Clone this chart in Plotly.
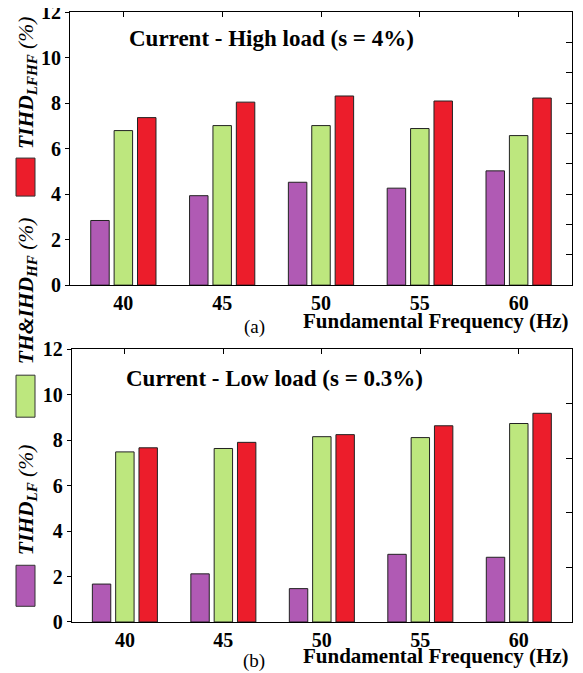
import plotly.graph_objects as go

freqs = [40, 45, 50, 55, 60]
high_lf = [2.84, 3.93, 4.52, 4.26, 5.02]
high_hf = [6.79, 7.01, 7.01, 6.88, 6.57]
high_lfhf = [7.36, 8.04, 8.31, 8.09, 8.22]
low_lf = [1.67, 2.12, 1.47, 2.98, 2.85]
low_hf = [7.49, 7.64, 8.16, 8.12, 8.74]
low_lfhf = [7.67, 7.91, 8.25, 8.64, 9.19]
ytick_vals = [0, 2, 4, 6, 8, 10, 12]
right_ticks_top = [0, 1, 2, 3, 4, 5, 6, 7, 8, 9]
right_ticks_bot = [0, 1, 2, 3, 4, 5]

PURPLE = "#b05ab4"
GREEN = "#bde77e"
RED = "#ec1d2b"
SERIF = "Liberation Serif"

OFF = 8  # page body margin
W, H = 583 - OFF, 673 - OFF
ML = 70 - OFF
MT = 12 - OFF
MR = W - (572 - OFF)
MB = H - (621.7 - OFF)
PW = W - ML - MR
PH = H - MT - MB


def xp(px):
    return (px - OFF - ML) / PW


def yp(py):
    return (H - MB - (py - OFF)) / PH


fig = go.Figure()
line = dict(color="#222222", width=1)
for vals, col, xa, ya in [
    (high_lf, PURPLE, "x", "y"), (high_hf, GREEN, "x", "y"), (high_lfhf, RED, "x", "y"),
    (low_lf, PURPLE, "x2", "y2"), (low_hf, GREEN, "x2", "y2"), (low_lfhf, RED, "x2", "y2"),
]:
    fig.add_trace(go.Bar(x=freqs, y=vals, marker=dict(color=col, line=line),
                         xaxis=xa, yaxis=ya, showlegend=False))

# invisible helper traces so the secondary tick-only axes get drawn
for xa, ya in [("x3", "y"), ("x", "y3"), ("x4", "y2"), ("x2", "y4")]:
    fig.add_trace(go.Scatter(x=[50], y=[1], xaxis=xa, yaxis=ya, mode="markers",
                             marker=dict(opacity=0, size=1),
                             showlegend=False, hoverinfo="skip"))

xr = [37.3, 62.7]
tickfont = dict(family=SERIF, size=20, color="black", weight="bold")
top_dom = [yp(285), 1]
bot_dom = [0, yp(349.3)]

common_x = dict(type="linear", range=xr, tickvals=freqs, ticks="", showline=True,
                mirror=True, linecolor="black", linewidth=1, showgrid=False,
                zeroline=False, tickfont=tickfont, automargin=False,
                ticklabeloverflow="allow")
common_y = dict(type="linear", range=[0, 12], tickvals=ytick_vals, ticks="outside",
                ticklen=4, tickcolor="black", showline=True, mirror=True,
                linecolor="black", linewidth=1, showgrid=False, zeroline=False,
                tickfont=tickfont, automargin=False, ticklabeloverflow="allow")
sec = dict(type="linear", ticks="inside", tickcolor="black", tickwidth=1,
           showticklabels=False, showline=False, showgrid=False, zeroline=False,
           automargin=False, fixedrange=True, tickmode="array")

fig.update_layout(
    width=W, height=H,
    margin=dict(l=ML, r=MR, t=MT, b=MB, autoexpand=False),
    paper_bgcolor="white", plot_bgcolor="white",
    barmode="group", bargap=0.29, bargroupgap=0.21,
    xaxis=dict(common_x, domain=[0, 1], anchor="y"),
    yaxis=dict(common_y, domain=top_dom, anchor="x"),
    xaxis2=dict(common_x, domain=[xp(71.7), 1], anchor="y2"),
    yaxis2=dict(common_y, domain=bot_dom, anchor="x2"),
    xaxis3=dict(sec, overlaying="x", anchor="y", side="top", range=xr,
                tickvals=freqs, ticklen=5),
    yaxis3=dict(sec, overlaying="y", anchor="x", side="right", range=[0, 9],
                tickvals=right_ticks_top, ticklen=6),
    xaxis4=dict(sec, overlaying="x2", anchor="y2", side="top", range=xr,
                tickvals=freqs, ticklen=5),
    yaxis4=dict(sec, overlaying="y2", anchor="x2", side="right", range=[0, 5],
                tickvals=right_ticks_bot, ticklen=6),
)

bold_font = dict(family=SERIF, size=23, color="black", weight="bold")
ff_font = dict(family=SERIF, size=21, color="black", weight="bold")
ann = [
    dict(text="Current - High load (s = 4%)", x=xp(271), y=yp(38), font=bold_font),
    dict(text="Current - Low load (s = 0.3%)", x=xp(274), y=yp(378), font=bold_font),
    dict(text="Fundamental Frequency (Hz)", x=xp(571), y=yp(321), xanchor="right",
         font=ff_font),
    dict(text="Fundamental Frequency (Hz)", x=xp(571), y=yp(656), xanchor="right",
         font=ff_font),
    dict(text="(a)", x=xp(254), y=yp(327), font=dict(family=SERIF, size=19, color="black")),
    dict(text="(b)", x=xp(254), y=yp(661), font=dict(family=SERIF, size=19, color="black")),
]
leg_font = dict(family=SERIF, size=21.5, color="black")
ann += [
    dict(text="<b><i>TIHD</i></b><sub><b><i>LFHF</i></b></sub><i> (%)</i>",
         x=xp(27), y=yp(83), textangle=-90, font=leg_font),
    dict(text="<b><i>TH&amp;IHD</i></b><sub><b><i>HF</i></b></sub><i> (%)</i>",
         x=xp(27), y=yp(291), textangle=-90, font=leg_font),
    dict(text="<b><i>TIHD</i></b><sub><b><i>LF</i></b></sub><i> (%)</i>",
         x=xp(27), y=yp(500), textangle=-90, font=leg_font),
]
for a in ann:
    a.setdefault("xanchor", "center")
    a.setdefault("yanchor", "middle")
    fig.add_annotation(xref="paper", yref="paper", showarrow=False, **a)

for col, y0, y1 in [(RED, 158, 196), (GREEN, 375, 417), (PURPLE, 565, 606)]:
    fig.add_shape(type="rect", xref="paper", yref="paper",
                  x0=xp(16), x1=xp(35), y0=yp(y1), y1=yp(y0),
                  fillcolor=col, line=dict(color="#333333", width=1))

fig.write_html("out.html")
